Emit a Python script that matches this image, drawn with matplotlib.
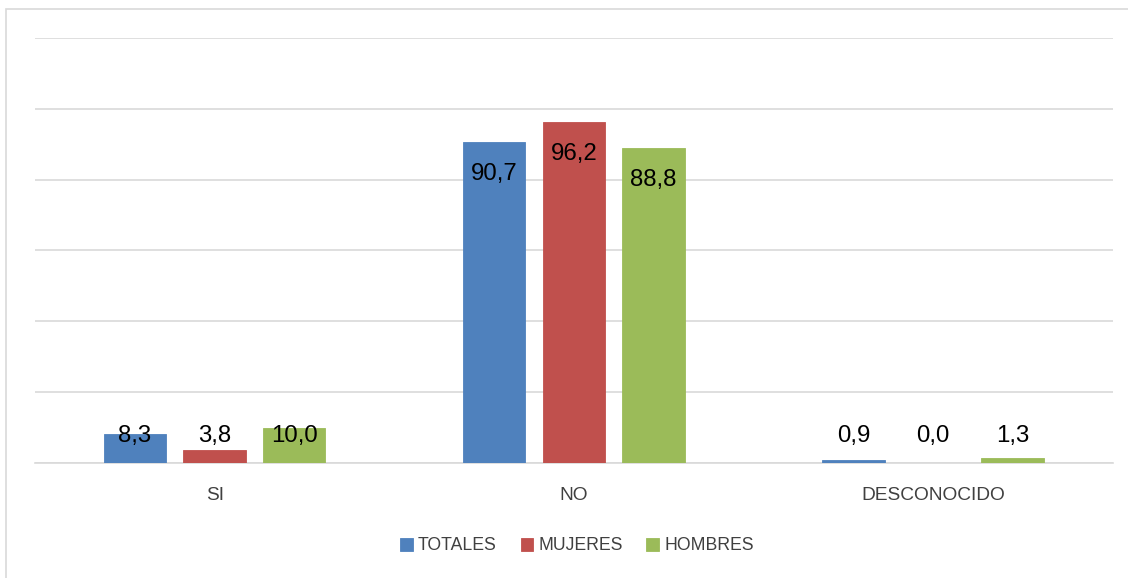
import matplotlib
matplotlib.use("Agg")
import matplotlib.pyplot as plt
from matplotlib.patches import Rectangle
import numpy as np

plt.rcParams["font.family"] = ["Liberation Sans", "DejaVu Sans"]

categories = ["SI", "NO", "DESCONOCIDO"]
series = ["TOTALES", "MUJERES", "HOMBRES"]
totales = [8.3, 90.7, 0.9]
mujeres = [3.8, 96.2, 0.0]
hombres = [10.0, 88.8, 1.3]
colors = ["#4F81BD", "#C0504D", "#9BBB59"]

W, H = 1128, 578
fig = plt.figure(figsize=(W / 100, H / 100), dpi=100)
ax = fig.add_axes([35 / W, 1 - 463 / H, (1112.7 - 35) / W, (463 - 38) / H])

x = np.arange(len(categories))
width = 0.1735
step = 0.2215
for i, (vals, name, c) in enumerate(zip([totales, mujeres, hombres], series, colors)):
    xs = x + (i - 1) * step
    ax.bar(xs, vals, width, color=c, label=name, zorder=3,
           edgecolor=c, linewidth=0.6)
    for xi, v in zip(xs, vals):
        ypos = max(v - 9.0, 7.5)
        ax.text(xi, ypos, f"{v:.1f}".replace(".", ","), ha="center", va="center",
                fontsize=17.3, color="black", zorder=4)

ax.set_xlim(-0.5, 2.5)
ax.set_ylim(0, 120)
ax.set_yticks(np.arange(0, 121, 20))
ax.yaxis.grid(True, color="#D9D9D9", linewidth=1.2, zorder=0)
ax.tick_params(axis="y", left=False, labelleft=False)
ax.set_xticks(x)
ax.set_xticklabels(categories, fontsize=13.8, color="#404040")
ax.tick_params(axis="x", length=0, pad=17)
for s in ["top", "right", "left"]:
    ax.spines[s].set_visible(False)
ax.spines["bottom"].set_color("#D9D9D9")
ax.spines["bottom"].set_linewidth(1.2)

fig.legend(loc="center", bbox_to_anchor=(577 / W, 1 - 546 / H), ncol=3,
           frameon=False, fontsize=12.7, handlelength=0.7, handleheight=0.7,
           handletextpad=0.3, columnspacing=1.35, labelcolor="#404040")

fig.patches.append(Rectangle((6 / W, -0.05), 1.2, 1.05 - 9 / H, transform=fig.transFigure,
                             fill=False, edgecolor="#D9D9D9", linewidth=1.2))

fig.savefig("out.png", dpi=100)
